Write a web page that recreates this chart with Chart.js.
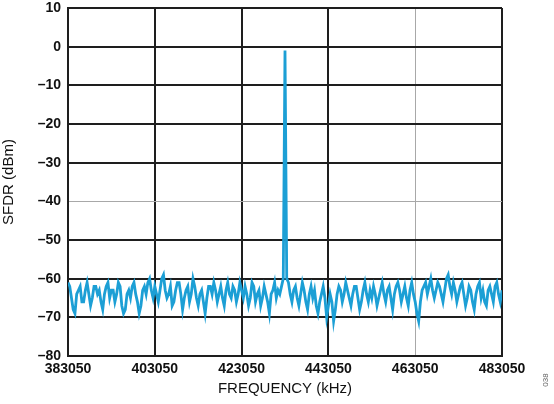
<!DOCTYPE html>
<html>
<head>
<meta charset="utf-8">
<script src="https://cdn.jsdelivr.net/npm/chart.js@4/dist/chart.umd.min.js"></script>
<style>
  html, body { margin: 0; padding: 0; background: #fff; }
  #wrap { width: 554px; height: 404px; }
</style>
</head>
<body>
<div id="wrap"><canvas id="sfdr" width="554" height="404"></canvas></div>
<script>
// --- data ---
const freqStart = 383050;   // kHz, first bin
const freqStep = 400;       // kHz between bins
const xTicks = [383050, 403050, 423050, 443050, 463050, 483050];
const yTicks = [10, 0, -10, -20, -30, -40, -50, -60, -70, -80];

// SFDR trace in dBm, one value per bin (carrier at 433050)
const sfdr = [
  -61, -62, -65, -68, -69, -64, -63, -62, -66, -66, -63, -61, -64, -67, -65, -62, -62, -64, -63, -66, -68, -64, -62, -61, -65,
  -63, -63, -66, -64, -61, -62, -67, -69, -68, -64, -63, -65, -62, -61, -64, -66, -69, -67, -63, -62, -64, -61, -60, -63, -65,
  -62, -64, -66, -63, -60, -59, -63, -65, -64, -62, -67, -66, -63, -61, -61, -64, -68, -65, -63, -62, -66, -64, -60, -62, -65,
  -67, -64, -63, -66, -69, -65, -62, -62, -64, -61, -63, -66, -64, -62, -65, -67, -63, -61, -64, -65, -62, -63, -66, -64, -61,
  -63, -65, -62, -64, -67, -65, -61, -62, -66, -64, -63, -67, -65, -62, -64, -66, -69, -64, -63, -61, -65, -63, -64, -62, -60,
  -1,
  -60, -61, -64, -66, -63, -62, -65, -67, -64, -61, -63, -66, -68, -64, -62, -65, -63, -67, -69, -66, -64, -62, -65, -70, -67,
  -64, -66, -71, -68, -64, -62, -63, -66, -64, -61, -63, -65, -67, -64, -62, -62, -65, -68, -66, -63, -61, -64, -66, -63, -65,
  -62, -64, -67, -65, -63, -61, -64, -66, -63, -62, -65, -68, -64, -62, -61, -63, -66, -64, -62, -65, -67, -63, -61, -64, -66,
  -69, -71, -66, -63, -62, -61, -64, -62, -60, -63, -65, -63, -61, -62, -64, -66, -63, -60, -59, -62, -64, -61, -63, -66, -64,
  -62, -61, -64, -67, -65, -62, -63, -66, -68, -64, -62, -61, -65, -63, -66, -67, -63, -62, -64, -66, -62, -61, -64, -66, -63
];

const points = sfdr.map((v, i) => ({ x: freqStart + i * freqStep, y: v }));

const dark = '#1e1e1e';
const light = '#a8a8a8';
const FONT = 'Liberation Sans, Arial, sans-serif';

// small figure id at the bottom right corner
const figId = {
  id: 'figId',
  afterDraw(chart) {
    const c = chart.ctx;
    c.save();
    c.translate(546, 380);
    c.rotate(-Math.PI / 2);
    c.font = '8px ' + FONT;
    c.fillStyle = '#666';
    c.textAlign = 'center';
    c.textBaseline = 'middle';
    c.fillText('038', 0, 0);
    c.restore();
  }
};

new Chart(document.getElementById('sfdr'), {
  type: 'line',
  data: {
    datasets: [{
      data: points,
      borderColor: '#1c9fd5',
      borderWidth: 2.8,
      pointRadius: 0,
      tension: 0,
      fill: false
    }]
  },
  options: {
    responsive: false,
    animation: false,
    layout: { padding: { left: 0, right: 52, top: 8, bottom: 6 } },
    plugins: { legend: { display: false }, tooltip: { enabled: false } },
    scales: {
      x: {
        type: 'linear',
        min: xTicks[0],
        max: xTicks[xTicks.length - 1],
        afterBuildTicks: (s) => { s.ticks = xTicks.map(v => ({ value: v })); },
        afterFit: (s) => { s.height = 42; s.paddingLeft = 0; s.paddingRight = 0; },
        ticks: {
          callback: (v) => String(v),
          color: '#111',
          font: { family: FONT, size: 14, weight: 'bold' },
          padding: 5,
          maxRotation: 0
        },
        grid: {
          drawTicks: false,
          color: (ctx) => ctx.tick && ctx.tick.value === 463050 ? light : dark,
          lineWidth: (ctx) => ctx.tick && ctx.tick.value === 463050 ? 1 : 2
        },
        border: { color: dark, width: 2 },
        title: {
          display: true,
          text: 'FREQUENCY (kHz)',
          color: '#111',
          font: { family: FONT, size: 15 },
          padding: { top: 2, bottom: 0 }
        }
      },
      y: {
        min: -80,
        max: 10,
        afterBuildTicks: (s) => { s.ticks = yTicks.map(v => ({ value: v })); },
        afterFit: (s) => { s.width = 68; s.paddingTop = 0; s.paddingBottom = 0; },
        ticks: {
          callback: (v) => String(v).replace('-', '\u2013'),
          color: '#111',
          font: { family: FONT, size: 14, weight: 'bold' },
          padding: 7
        },
        grid: {
          drawTicks: false,
          color: (ctx) => ctx.tick && ctx.tick.value === -40 ? light : dark,
          lineWidth: (ctx) => ctx.tick && ctx.tick.value === -40 ? 1 : 2
        },
        border: { color: dark, width: 2 },
        title: {
          display: true,
          text: 'SFDR (dBm)',
          color: '#111',
          font: { family: FONT, size: 15 },
          padding: { top: 0, bottom: 4 }
        }
      }
    }
  },
  plugins: [figId]
});
</script>
</body>
</html>
